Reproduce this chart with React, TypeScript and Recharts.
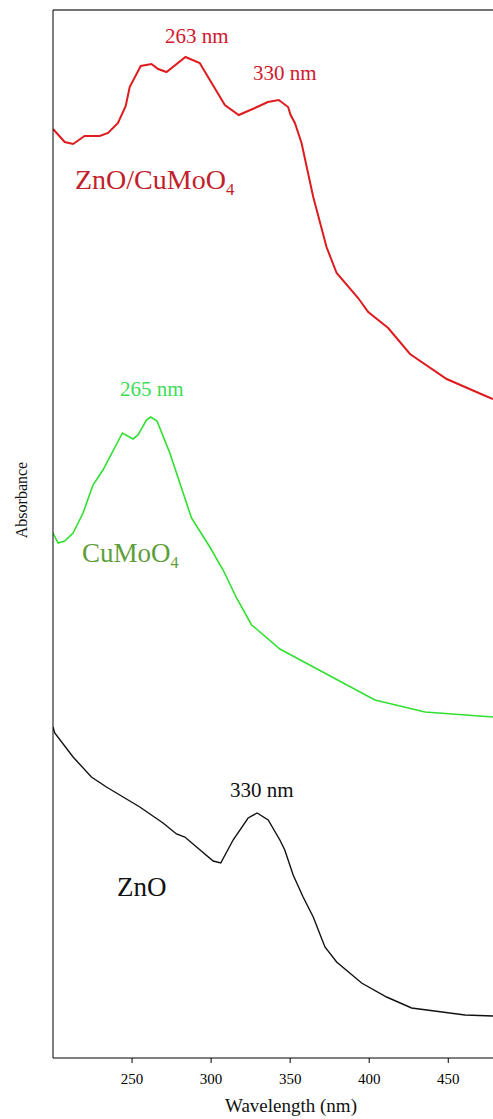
import { Line, LineChart, ReferenceLine, XAxis, YAxis } from "recharts";
import type { CSSProperties } from "react";

// wavelength (nm) / absorbance (a.u.) pairs
const compositeNm = [200, 207.4, 212.7, 220, 229.6, 234.8, 241.1, 246, 248.5, 255.5, 262.3, 266.5, 271.8, 283.8, 292.8, 299.2, 308.7, 317.5, 327.7, 335.9, 342.8, 348.7, 350.3, 353, 357.2, 364.6, 373, 379.4, 393, 399.4, 412, 425.8, 449, 472.2, 478.3];
const compositeAbs = [0.929, 0.916, 0.914, 0.922, 0.922, 0.925, 0.935, 0.952, 0.971, 0.992, 0.994, 0.989, 0.986, 1.001, 0.995, 0.978, 0.953, 0.943, 0.95, 0.956, 0.958, 0.951, 0.943, 0.935, 0.915, 0.861, 0.811, 0.785, 0.76, 0.746, 0.73, 0.704, 0.679, 0.663, 0.659];

const cuMoO4Nm = [200, 203.2, 207.4, 212.7, 219, 225.3, 231.6, 243.9, 250.6, 253.8, 259.1, 261.8, 265.8, 273.9, 287.6, 299.2, 307.6, 316.1, 325.6, 328.7, 343.5, 403.6, 435.3, 478.3];
const cuMoO4Abs = [0.525, 0.515, 0.517, 0.525, 0.545, 0.573, 0.588, 0.625, 0.619, 0.623, 0.638, 0.641, 0.637, 0.605, 0.54, 0.511, 0.488, 0.46, 0.433, 0.429, 0.409, 0.358, 0.346, 0.341];

const znoNm = [200, 201.1, 212.7, 224.3, 233.8, 254.9, 269.6, 278.1, 283.4, 301.3, 306.1, 313.9, 323.4, 329.1, 336.1, 343.5, 346.6, 351.9, 358.2, 364.6, 372, 379.4, 395.2, 411, 426.8, 460.6, 478.3];
const znoAbs = [0.331, 0.325, 0.301, 0.281, 0.271, 0.251, 0.235, 0.224, 0.221, 0.197, 0.195, 0.218, 0.24, 0.245, 0.238, 0.218, 0.208, 0.183, 0.161, 0.141, 0.111, 0.096, 0.075, 0.061, 0.05, 0.043, 0.042];

const xTicks = [250, 300, 350, 400, 450];

const toPoints = (nm: number[], abs: number[]) => nm.map((x, i) => ({ nm: x, a: abs[i] }));

const serif = "'Liberation Serif', 'Times New Roman', serif";

function Note({ left, top, size, color, children }: { left: number; top: number; size: number; color: string; children: React.ReactNode }) {
  const style: CSSProperties = {
    position: "absolute",
    left,
    top,
    fontSize: size,
    lineHeight: 1,
    color,
    fontFamily: serif,
    whiteSpace: "nowrap",
  };
  return <div style={style}>{children}</div>;
}

const Sub = ({ children }: { children: React.ReactNode }) => (
  <span style={{ fontSize: "0.6em", position: "relative", top: "0.35em" }}>{children}</span>
);

export default function App() {
  return (
    <div style={{ position: "absolute", left: 0, top: 0, width: 493, height: 1119, background: "#fff" }}>
      <LineChart width={493} height={1119} margin={{ top: 10, right: 0, left: 0, bottom: 0 }}>
        <XAxis
          type="number"
          dataKey="nm"
          domain={[200, 478.3]}
          ticks={xTicks}
          allowDataOverflow
          height={61}
          tickSize={5}
          tickMargin={10}
          stroke="#000"
          tick={{ fill: "#000", fontSize: 15, fontFamily: serif }}
        />
        <YAxis
          type="number"
          domain={[0, 1.048]}
          width={53}
          tick={false}
          tickLine={false}
          stroke="#000"
          allowDataOverflow
        />
        <ReferenceLine y={1.048} stroke="#444" strokeWidth={1.5} />
        <Line
          data={toPoints(compositeNm, compositeAbs)}
          dataKey="a"
          type="linear"
          stroke="#de1b1e"
          strokeWidth={2}
          dot={false}
          isAnimationActive={false}
        />
        <Line
          data={toPoints(cuMoO4Nm, cuMoO4Abs)}
          dataKey="a"
          type="linear"
          stroke="#30e030"
          strokeWidth={1.6}
          dot={false}
          isAnimationActive={false}
        />
        <Line
          data={toPoints(znoNm, znoAbs)}
          dataKey="a"
          type="linear"
          stroke="#111"
          strokeWidth={1.4}
          dot={false}
          isAnimationActive={false}
        />
      </LineChart>

      <Note left={165} top={26} size={21} color="#d0182e">263 nm</Note>
      <Note left={253} top={63} size={21} color="#d0182e">330 nm</Note>
      <Note left={75} top={166} size={28} color="#c0222a">
        ZnO/CuMoO<Sub>4</Sub>
      </Note>
      <Note left={120} top={379} size={21} color="#3ddc55">265 nm</Note>
      <Note left={82} top={540} size={27} color="#5e9e3a">
        CuMoO<Sub>4</Sub>
      </Note>
      <Note left={230} top={780} size={21} color="#111">330 nm</Note>
      <Note left={117} top={874} size={27} color="#111">ZnO</Note>

      <div
        style={{
          position: "absolute",
          left: 22 - 60,
          top: 500 - 9,
          width: 120,
          textAlign: "center",
          fontSize: 16,
          lineHeight: "18px",
          fontFamily: serif,
          color: "#111",
          transform: "rotate(-90deg)",
        }}
      >
        Absorbance
      </div>
      <div
        style={{
          position: "absolute",
          left: 191,
          top: 1096,
          width: 200,
          textAlign: "center",
          fontSize: 19,
          lineHeight: 1,
          fontFamily: serif,
          color: "#111",
        }}
      >
        Wavelength (nm)
      </div>
    </div>
  );
}
